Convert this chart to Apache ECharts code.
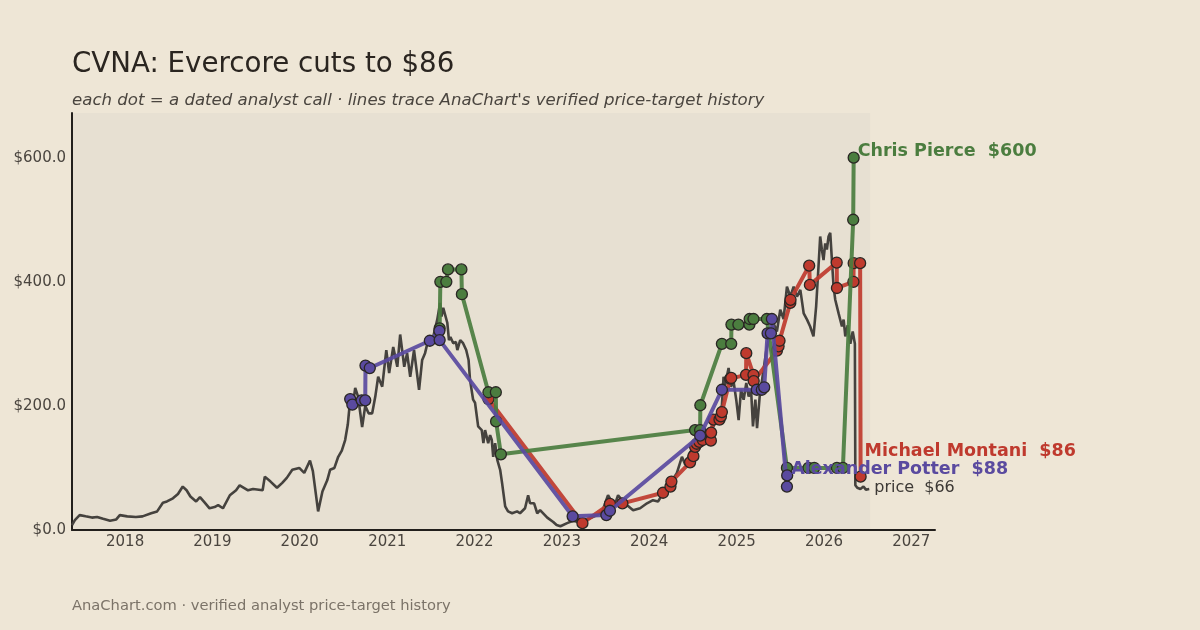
<!DOCTYPE html>
<html>
<head>
<meta charset="utf-8">
<script src="https://cdn.jsdelivr.net/npm/echarts@6/dist/echarts.min.js"></script>
<style>
html,body{margin:0;padding:0;background:#eee6d6;}
#chart{width:1200px;height:630px;}
</style>
</head>
<body>
<div id="chart"></div>
<script>
// ---------- DATA ----------
const xTickLabels = ['2018','2019','2020','2021','2022','2023','2024','2025','2026','2027'];
const yTicks = [0, 200, 400, 600];

const priceDates = [
'2017-05-24','2017-06-05','2017-06-25','2017-07-20','2017-08-15','2017-09-06','2017-10-01','2017-10-30','2017-11-25','2017-12-10',
'2018-01-10','2018-02-15','2018-03-15','2018-04-20','2018-05-15','2018-06-08','2018-06-25','2018-07-20','2018-08-10','2018-08-30',
'2018-09-15','2018-10-01','2018-10-25','2018-11-10','2018-11-30','2018-12-20','2019-01-10','2019-01-25','2019-02-14','2019-03-15',
'2019-04-10','2019-04-25','2019-05-30','2019-06-20','2019-07-30','2019-08-08','2019-09-01','2019-09-28','2019-10-20','2019-11-08',
'2019-12-01','2019-12-30','2020-01-20','2020-02-13','2020-02-25','2020-03-18','2020-04-05','2020-04-25','2020-05-07','2020-05-25',
'2020-06-10','2020-06-25','2020-07-09','2020-07-20','2020-07-30','2020-08-10','2020-08-20','2020-09-01','2020-09-18','2020-10-01',
'2020-10-15','2020-10-30','2020-11-12','2020-11-24','2020-12-11','2020-12-28','2021-01-09','2021-01-26','2021-02-12','2021-02-24',
'2021-03-13','2021-03-25','2021-04-07','2021-04-23','2021-05-14','2021-05-27','2021-06-08','2021-06-21','2021-07-12','2021-07-29',
'2021-08-10','2021-08-16','2021-08-23','2021-09-09','2021-09-16','2021-09-22','2021-10-04','2021-10-15','2021-10-21','2021-11-02',
'2021-11-14','2021-11-27','2021-12-07','2021-12-13','2021-12-26','2022-01-03','2022-01-16','2022-01-31','2022-02-07','2022-02-14',
'2022-02-27','2022-03-07','2022-03-14','2022-03-20','2022-03-28','2022-04-06','2022-04-18','2022-04-26','2022-05-09','2022-05-21',
'2022-06-07','2022-06-28','2022-07-10','2022-07-31','2022-08-13','2022-08-21','2022-09-07','2022-09-20','2022-10-02','2022-11-01',
'2022-11-26','2022-12-10','2022-12-26','2023-01-23','2023-02-17','2023-03-18','2023-04-29','2023-05-28','2023-06-18','2023-07-13',
'2023-07-25','2023-08-08','2023-08-24','2023-09-10','2023-10-01','2023-10-26','2023-11-24','2023-12-23','2024-01-17','2024-02-07',
'2024-02-28','2024-03-20','2024-04-06','2024-04-26','2024-05-17','2024-05-31','2024-06-21','2024-07-11','2024-08-01','2024-08-29',
'2024-09-26','2024-10-17','2024-10-31','2024-11-07','2024-11-14','2024-11-28','2024-12-08','2024-12-19','2024-12-30','2025-01-09',
'2025-01-19','2025-01-30','2025-02-10','2025-02-20','2025-03-02','2025-03-10','2025-03-20','2025-03-27','2025-04-07','2025-04-17',
'2025-05-05','2025-05-21','2025-06-04','2025-06-18','2025-07-02','2025-07-16','2025-07-30','2025-08-13','2025-08-27','2025-09-10',
'2025-09-24','2025-10-08','2025-10-22','2025-11-04','2025-11-18','2025-11-29','2025-12-09','2025-12-16','2025-12-23','2025-12-30',
'2026-01-06','2026-01-13','2026-01-20','2026-01-27','2026-02-03','2026-02-10','2026-02-17','2026-03-03','2026-03-17','2026-03-24',
'2026-03-31','2026-04-10','2026-04-21','2026-05-01','2026-05-10','2026-05-12','2026-05-20','2026-06-02','2026-06-15','2026-06-25',
'2026-07-09'
];
const priceValues = [
8,16,24,22,20,21,18,15,17,24,
22,21,22,27,30,44,46,51,58,70,
64,54,46,53,44,35,37,40,35,56,
64,72,64,66,64,86,78,68,76,84,
97,100,92,112,95,30,62,80,97,100,
118,128,145,170,210,200,229,215,166,200,
188,188,215,247,231,290,253,295,263,315,
263,285,247,290,226,274,285,306,311,339,
366,344,358,334,306,311,301,303,290,306,
301,290,274,242,210,205,167,161,140,161,
140,153,145,118,140,113,97,76,38,30,
27,30,27,35,56,43,43,27,32,20,
13,8,6,11,15,12,19,24,29,56,
48,38,56,48,40,32,35,43,48,46,
59,72,80,92,118,105,126,134,145,150,
167,194,200,247,234,261,231,239,210,177,
226,210,237,215,226,167,210,164,215,242,
290,317,333,320,355,340,392,376,392,376,
387,349,339,328,312,360,425,473,452,435,
462,452,473,479,435,392,371,349,328,339,
312,330,300,320,300,72,68,66,70,65,
66
];

const pierceDates = ['2021-08-08','2021-08-11','2021-09-05','2021-09-12','2021-11-07','2021-11-09','2022-02-28','2022-03-31','2022-04-01','2022-04-21',
'2024-07-11','2024-08-01','2024-08-02','2024-10-31','2024-12-09','2024-12-10','2025-01-08','2025-02-23','2025-02-24','2025-03-12',
'2025-05-07','2025-07-30','2025-10-28','2025-11-21','2026-02-24','2026-03-21','2026-05-03','2026-05-05'];
const pierceTargets = [325,400,400,420,420,380,222,222,175,122,
161,161,201,300,300,331,331,331,340,340,
340,100,100,100,100,100,500,600];

const montaniDates = ['2022-02-28','2023-03-28','2023-07-21','2023-09-11','2024-02-28','2024-03-30','2024-04-03','2024-06-20','2024-07-04','2024-07-11',
'2024-07-18','2024-07-29','2024-08-12','2024-09-15','2024-09-16','2024-09-26','2024-10-21','2024-10-27','2024-10-31','2024-12-05',
'2024-12-09','2025-02-09','2025-02-10','2025-03-12','2025-03-13','2025-06-18','2025-06-25','2025-06-29','2025-08-13','2025-08-14',
'2025-10-31','2025-11-03','2026-02-23','2026-02-24','2026-05-04','2026-05-05','2026-06-01','2026-06-03'];
const montaniTargets = [211,11,42,43,60,70,78,109,119,134,
139,142,145,144,157,178,178,183,190,244,
245,250,285,250,240,289,296,305,366,371,
426,395,431,390,400,430,430,86];

const potterDates = ['2020-07-30','2020-08-08','2020-09-16','2020-10-01','2020-10-02','2020-10-20','2021-06-28','2021-08-07','2021-08-08','2023-02-15',
'2023-07-06','2023-07-21','2024-08-01','2024-10-31','2025-03-26','2025-04-16','2025-04-26','2025-05-10','2025-05-24','2025-05-28',
'2025-07-30','2025-07-31'];
const potterTargets = [211,202,209,209,265,261,305,321,306,22,
24,31,152,226,226,226,230,317,317,340,
70,88];

// ---------- BUILD ----------
const t = d => +new Date(d + 'T00:00:00');
const zip = (d, v) => d.map((x, i) => [t(x), v[i]]);
const C = {
  bg: '#eee6d6', shade: '#e7e0d2', axis: '#221f1c', tick: '#4a453f',
  price: '#45423e', green: '#4b7d3f', red: '#bf3a2e', purple: '#5a4a9f'
};
const FONT = 'DejaVu Sans';
const X_MIN = t('2017-05-24'), X_MAX = t('2027-04-10'), SHADE_END = t('2026-07-13');

function analyst(name, color, dates, vals, z, offset) {
  const last = vals[vals.length - 1];
  return {
    type: 'line', name, z,
    data: zip(dates, vals),
    showSymbol: true, showAllSymbol: true,
    symbol: 'circle', symbolSize: 11,
    lineStyle: { color, width: 4, opacity: 0.92 },
    itemStyle: { color, borderColor: '#2a2724', borderWidth: 1.3 },
    endLabel: {
      show: true, formatter: name + '  $' + last,
      color, fontFamily: FONT, fontWeight: 'bold', fontSize: 17.5,
      distance: 4, offset
    },
    emphasis: { disabled: true }
  };
}

const chart = echarts.init(document.getElementById('chart'), null, { renderer: 'canvas' });
chart.setOption({
  animation: false,
  backgroundColor: C.bg,
  title: [
    { text: 'CVNA: Evercore cuts to $86', left: 72, top: 50, padding: 0,
      textStyle: { fontFamily: FONT, fontSize: 27.7, fontWeight: 'normal', color: '#2a2520', lineHeight: 30 } },
    { text: "each dot = a dated analyst call · lines trace AnaChart's verified price-target history", left: 72, top: 91, padding: 0,
      textStyle: { fontFamily: FONT, fontSize: 16.6, fontStyle: 'italic', fontWeight: 'normal', color: '#4a453f', lineHeight: 20 } },
    { text: 'AnaChart.com · verified analyst price-target history', left: 72, top: 597, padding: 0,
      textStyle: { fontFamily: FONT, fontSize: 14.7, fontWeight: 'normal', color: '#7b7368', lineHeight: 18 } }
  ],
  grid: { left: 72, right: 265, top: 113, bottom: 100, containLabel: false },
  xAxis: {
    type: 'value', min: X_MIN, max: X_MAX,
    axisLine: { show: true, onZero: false, lineStyle: { color: C.axis, width: 2 } },
    axisTick: { show: false }, splitLine: { show: false },
    axisLabel: {
      customValues: xTickLabels.map(y => +new Date(+y, 0, 1)),
      formatter: v => String(new Date(v).getFullYear()),
      fontFamily: FONT, fontSize: 15, color: C.tick, margin: 5
    }
  },
  yAxis: {
    type: 'value', min: 0, max: 672,
    axisLine: { show: true, lineStyle: { color: C.axis, width: 2 } },
    axisTick: { show: false }, splitLine: { show: false },
    axisLabel: {
      customValues: yTicks,
      formatter: v => '$' + Number(v).toFixed(1),
      fontFamily: FONT, fontSize: 15, color: C.tick, margin: 6, padding: [3, 0, 0, 0]
    }
  },
  series: [
    {
      type: 'line', name: 'price', z: 1,
      data: zip(priceDates, priceValues),
      showSymbol: false,
      lineStyle: { color: C.price, width: 2.6 },
      endLabel: { show: true, formatter: 'price  $' + priceValues[priceValues.length - 1],
        color: '#3d3935', fontFamily: FONT, fontSize: 16, distance: 5, offset: [0, -1] },
      markArea: {
        silent: true, z: 0,
        itemStyle: { color: C.shade },
        data: [[{ xAxis: X_MIN, yAxis: 0 }, { xAxis: SHADE_END, yAxis: 672 }]]
      },
      emphasis: { disabled: true }
    },
    analyst('Michael Montani', C.red, montaniDates, montaniTargets, 3, [0, -25]),
    analyst('Chris Pierce', C.green, pierceDates, pierceTargets, 4, [0, -6]),
    analyst('Alexander Potter', C.purple, potterDates, potterTargets, 5, [0, -6])
  ]
});
</script>
</body>
</html>
